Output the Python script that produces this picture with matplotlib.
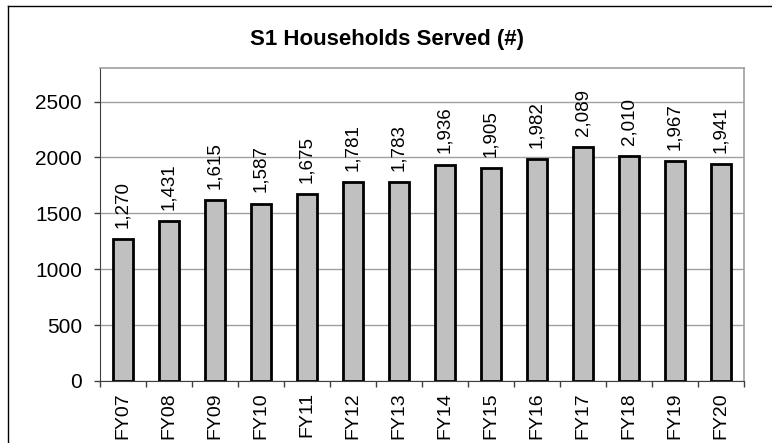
import numpy as np
import matplotlib.pyplot as plt
from matplotlib.lines import Line2D

anios = ["FY07", "FY08", "FY09", "FY10", "FY11", "FY12", "FY13",
         "FY14", "FY15", "FY16", "FY17", "FY18", "FY19", "FY20"]
hogares = [1270, 1431, 1615, 1587, 1675, 1781, 1783,
           1936, 1905, 1982, 2089, 2010, 1967, 1941]

plt.rcParams['font.family'] = ['Liberation Sans', 'DejaVu Sans']

fig = plt.figure(figsize=(7.72, 4.43), dpi=100)
ax = fig.add_axes([100/772, 1 - 381/443, (744-100)/772, (381-68)/443])

x = np.arange(len(anios))
ax.bar(x, hogares, width=0.42, color="#c0c0c0", edgecolor="black", linewidth=2, zorder=3)
for xi, v in zip(x, hogares):
    ax.annotate("{:,}".format(v), (xi, v), xytext=(0, 8), textcoords="offset points",
                rotation=90, ha="center", va="bottom", fontsize=13.5)

ax.set_xlim(-0.5, len(anios) - 0.5)
ax.set_ylim(0, 2800)
ax.set_yticks([0, 500, 1000, 1500, 2000, 2500])
ax.yaxis.grid(True, color="#a0a0a0", linewidth=1, zorder=0)
ax.set_xticks(x)
ax.set_xticklabels(anios, rotation=90, fontsize=14)
ax.set_xticks(np.arange(-0.5, len(anios)), minor=True)
ax.tick_params(axis="x", which="major", length=0, pad=8)
ax.tick_params(axis="x", which="minor", length=4, width=1, color="#404040", direction="out")
ax.tick_params(axis="y", labelsize=15, length=4, width=1, color="#404040", direction="out", pad=9)
for lado in ["top", "right"]:
    ax.spines[lado].set_color("#a0a0a0")
    ax.spines[lado].set_linewidth(1.2)
ax.spines["left"].set_color("#404040")
ax.spines["bottom"].set_color("#404040")

fig.text(387/772, 1 - 39/443, "S1 Households Served (#)", ha="center", va="center",
         fontsize=16, fontweight="bold")

# marco exterior del grafico
fig.add_artist(Line2D([8/772, 8/772], [0, 1 - 6/443], color="black", linewidth=1))
fig.add_artist(Line2D([8/772, 1], [1 - 6/443, 1 - 6/443], color="black", linewidth=1))

fig.savefig("out.png", dpi=100)
